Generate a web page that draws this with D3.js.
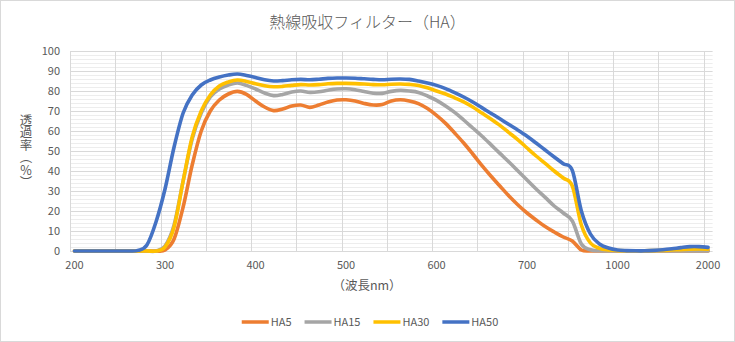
<!DOCTYPE html>
<html>
<head>
<meta charset="utf-8">
<script src="https://cdn.jsdelivr.net/npm/d3@7"></script>
<style>
  html, body { margin: 0; padding: 0; background: #fff; }
  svg { display: block; }
  text { font-family: "Noto Sans CJK JP", "Noto Sans", sans-serif; fill: #595959; }
</style>
</head>
<body>
<svg id="chart" width="735" height="342"></svg>
<script>
// Wavelength categories (nm) — evenly spaced on a category axis
const wavelengths = [
  200, 210, 220, 230, 240, 250, 260, 270, 280, 290,
  300, 310, 320, 330, 340, 350, 360, 370, 380, 390,
  400, 410, 420, 430, 440, 450, 460, 470, 480, 490,
  500, 510, 520, 530, 540, 550, 560, 570, 580, 590,
  600, 610, 620, 630, 640, 650, 660, 670, 680, 690,
  700, 710, 720, 730, 740, 750, 800, 850, 900, 950,
  1000, 1100, 1200, 1300, 1400, 1500, 1600, 1700, 1800, 1900,
  2000
];

// Transmittance (%) per filter
const ha5 = [
  0, 0, 0, 0, 0, 0, 0, 0, 0, 0,
  0.5, 6, 22, 43, 60, 70, 75.5, 78.5, 79.8, 78.3,
  75, 72, 70.2, 71, 72.5, 73, 71.8, 73, 74.5, 75.5,
  75.6, 75, 73.8, 73, 73.2, 75, 75.6, 75, 73.7, 71.2,
  67.8, 63.8, 59, 54, 48.5, 42.8, 37.5, 32.5, 27.5, 23,
  19, 15.5, 12.2, 9.5, 7, 5, 0.5, 0, 0, 0,
  0, 0, 0, 0, 0, 0, 0, 0, 0, 0,
  0
];
const ha15 = [
  0, 0, 0, 0, 0, 0, 0, 0, 0, 0,
  2.5, 13, 35, 56, 69, 77, 81, 83, 84, 82.8,
  81, 79, 77.7, 78.3, 79.5, 80, 79.3, 79.6, 80.4, 81,
  81.1, 80.6, 79.7, 78.9, 78.8, 79.8, 80.3, 80, 79.3, 77.5,
  75.3, 72.5, 69.3, 65.5, 61.5, 57.5, 53.2, 48.8, 44.5, 40,
  35.5, 31, 26.8, 22.5, 19, 15, 3.5, 0.6, 0.1, 0,
  0, 0, 0, 0, 0, 0, 0, 0, 0, 0,
  0
];
const ha30 = [
  0, 0, 0, 0, 0, 0, 0, 0, 0, 0,
  2, 12, 35, 57, 70, 78, 82.5, 84.5, 85.5, 84.8,
  83.6, 82.6, 82.1, 82.3, 82.8, 83.2, 83, 83.2, 83.6, 83.8,
  83.8, 83.7, 83.5, 83.2, 83.1, 83.4, 83.5, 83.3, 82.8, 81.6,
  80, 78.5, 76.6, 74.6, 72, 69, 66, 62.8, 59.2, 55.6,
  51.5, 47.5, 43.8, 40, 36.5, 32.5, 13, 4, 1.3, 0.5,
  0.2, 0.1, 0.1, 0.1, 0.2, 0.3, 0.5, 0.7, 0.9, 1,
  0.9
];
const ha50 = [
  0, 0, 0, 0, 0, 0, 0, 0.3, 3, 14.5,
  31, 52, 69, 78, 83, 85.5, 87, 88, 88.5, 87.8,
  86.8, 85.6, 85, 85.2, 85.6, 85.8, 85.6, 85.9, 86.3, 86.5,
  86.5, 86.4, 86.1, 85.8, 85.6, 85.9, 86, 85.8, 85, 84,
  82.8, 81.2, 79.2, 77, 74.5, 71.7, 68.9, 66.1, 63.2, 60.4,
  57.4, 54, 50.5, 47, 43.6, 40.3, 20, 8.5, 3.5, 1.5,
  0.5, 0.2, 0.1, 0.1, 0.3, 0.6, 1.1, 1.7, 2.2, 2.2,
  1.8
];

const seriesNames = ["HA5", "HA15", "HA30", "HA50"];
const seriesValues = [ha5, ha15, ha30, ha50];
const seriesColors = ["#ED7D31", "#A5A5A5", "#FFC000", "#4472C4"];

const xTickLabels = ["200", "300", "400", "500", "600", "700", "1000", "2000"];
const yTicks = [0, 10, 20, 30, 40, 50, 60, 70, 80, 90, 100];

const titleText = "熱線吸収フィルター（HA）";
const xTitleText = "（波長nm）";
const yTitleText = "透過率（%）";

// ---- layout ----
const W = 735, H = 342;
const plot = { left: 70, right: 712.6, top: 51, bottom: 251 };

const svg = d3.select("#chart");

svg.append("rect")
  .attr("x", 0.5).attr("y", 0.5)
  .attr("width", W - 1).attr("height", H - 1)
  .attr("fill", "#fff").attr("stroke", "#D9D9D9");

const x = d3.scaleBand()
  .domain(wavelengths.map(String))
  .range([plot.left, plot.right])
  .padding(0);
const xc = d => x(String(d)) + x.bandwidth() / 2;

const y = d3.scaleLinear().domain([0, 100]).range([plot.bottom, plot.top]);

// minor horizontal gridlines
const minorTicks = d3.range(0, 101, 2).filter(v => v % 10 !== 0);
svg.append("g").selectAll("line").data(minorTicks).join("line")
  .attr("x1", plot.left).attr("x2", plot.right)
  .attr("y1", d => Math.round(y(d)) + 0.5).attr("y2", d => Math.round(y(d)) + 0.5)
  .attr("stroke", "#EDEDED").attr("stroke-width", 1);

// vertical gridlines every 5 categories
const vGrid = wavelengths.filter((d, i) => i % 5 === 0);
svg.append("g").selectAll("line").data(vGrid).join("line")
  .attr("x1", d => Math.round(x(String(d))) + 0.5).attr("x2", d => Math.round(x(String(d))) + 0.5)
  .attr("y1", plot.top).attr("y2", plot.bottom)
  .attr("stroke", "#D9D9D9").attr("stroke-width", 1);

// major horizontal gridlines
svg.append("g").selectAll("line").data(yTicks).join("line")
  .attr("x1", plot.left).attr("x2", plot.right)
  .attr("y1", d => Math.round(y(d)) + 0.5).attr("y2", d => Math.round(y(d)) + 0.5)
  .attr("stroke", "#D9D9D9").attr("stroke-width", 1);

// y axis labels
const yAxis = svg.append("g")
  .attr("transform", `translate(${plot.left},0)`)
  .call(d3.axisLeft(y).tickValues(yTicks).tickSize(0).tickPadding(10));
yAxis.select(".domain").remove();
yAxis.selectAll("text")
  .attr("font-size", 11)
  .attr("font-family", null)
  .attr("fill", "#595959");

// x axis labels
const xAxis = svg.append("g")
  .attr("transform", `translate(0,${plot.bottom})`)
  .call(d3.axisBottom(x).tickValues(xTickLabels).tickSize(0).tickPadding(10));
xAxis.select(".domain").remove();
xAxis.selectAll("text")
  .attr("font-size", 11)
  .attr("font-family", null)
  .attr("fill", "#595959");

// series lines
const line = d3.line()
  .x((d, i) => xc(wavelengths[i]))
  .y(d => y(d))
  .curve(d3.curveCardinal.tension(0));

svg.append("g").selectAll("path").data(seriesValues).join("path")
  .attr("d", d => line(d))
  .attr("fill", "none")
  .attr("stroke", (d, i) => seriesColors[i])
  .attr("stroke-width", 3.6)
  .attr("stroke-linejoin", "round")
  .attr("stroke-linecap", "round");

// titles
svg.append("text")
  .attr("x", W / 2).attr("y", 28)
  .attr("text-anchor", "middle")
  .attr("font-size", 16)
  .attr("font-weight", 300)
  .text(titleText);

svg.append("text")
  .attr("x", 367).attr("y", 290)
  .attr("text-anchor", "middle")
  .attr("font-size", 12.5)
  .text(xTitleText);

svg.append("text")
  .attr("x", 26).attr("y", 151)
  .attr("text-anchor", "middle")
  .attr("font-size", 12.5)
  .style("writing-mode", "vertical-rl")
  .style("text-orientation", "upright")
  .text(yTitleText);

// legend
const legend = svg.append("g");
const items = legend.selectAll("g").data(seriesNames).join("g");
items.append("line")
  .attr("x1", 0).attr("x2", 27).attr("y1", 0).attr("y2", 0)
  .attr("stroke", (d, i) => seriesColors[i])
  .attr("stroke-width", 3.5);
items.append("text")
  .attr("x", 29).attr("y", 0).attr("dy", "0.35em")
  .attr("font-size", 11)
  .text(d => d);
let cursor = 0;
items.each(function () {
  const g = d3.select(this);
  g.attr("transform", `translate(${cursor},0)`);
  const tw = g.select("text").node().getComputedTextLength();
  cursor += 29 + tw + 13;
});
const legendWidth = cursor - 13;
legend.attr("transform", `translate(${370 - legendWidth / 2},322)`);
</script>
</body>
</html>
